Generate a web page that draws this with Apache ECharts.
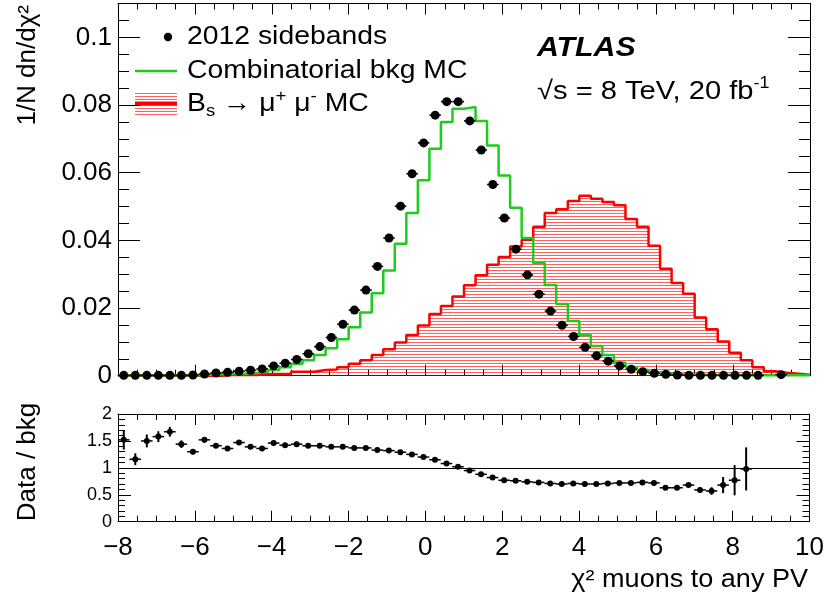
<!DOCTYPE html>
<html><head><meta charset="utf-8">
<script src="https://cdn.jsdelivr.net/npm/echarts@6/dist/echarts.min.js"></script>
<style>html,body{margin:0;padding:0;background:#fff}#c{width:827px;height:601px}</style>
</head><body><div id="c"></div>
<script>
// binning
const xMin = -8, xMax = 10, binW = 0.3;
// 2012 sidebands (data), normalised
const dataVals = [0.0001,0.0001,0.0001,0.0001,0.0001,0.0001,0.0002,0.0005,0.0008,0.0010,
  0.0013,0.0016,0.0020,0.0029,0.0037,0.0048,0.0065,0.0086,0.0113,0.0152,
  0.0194,0.0253,0.0323,0.0407,0.0501,0.0597,0.0688,0.0770,0.0810,0.0810,
  0.0753,0.0667,0.0565,0.0466,0.0374,0.0298,0.0241,0.0191,0.0149,0.0116,
  0.0084,0.0059,0.0043,0.0029,0.0019,0.0012,0.0007,0.0004,0.0002,0.0001,
  0.0001,0.0001,0.0001,0.0001,0.0001,0.0001,null,0.0003,null,null];
// Combinatorial bkg MC
const bkgVals = [0.0001,0.0001,0.0001,0.0001,0.0001,0.0001,0.0001,0.0003,0.0004,0.0005,
  0.0006,0.0008,0.0011,0.0017,0.0025,0.0035,0.0046,0.0061,0.0081,0.0108,
  0.0143,0.0187,0.0244,0.0311,0.0390,0.0481,0.0578,0.0671,0.0750,0.0789,
  0.0794,0.0753,0.0680,0.0592,0.0496,0.0407,0.0333,0.0268,0.0212,0.0162,
  0.0120,0.0088,0.0061,0.0039,0.0025,0.0017,0.0010,0.0007,0.0004,0.0003,
  0.0002,0.0002,0.0002,0.0001,0.0001,0.0001,0.0001,0.0001,0.0001,0.0001];
// Bs -> mu mu MC
const sigVals = [0,0,0,0,0,0,0,0,0,0.0002,
  0.0002,0.0002,0.0005,0.0005,0.0005,0.0012,0.0012,0.0017,0.0018,0.0025,
  0.0035,0.0046,0.0061,0.0078,0.0098,0.0120,0.0148,0.0182,0.0206,0.0234,
  0.0267,0.0297,0.0328,0.0351,0.0382,0.0402,0.0440,0.0481,0.0492,0.0516,
  0.0532,0.0523,0.0513,0.0504,0.0463,0.0440,0.0384,0.0316,0.0274,0.0242,
  0.0172,0.0137,0.0101,0.0068,0.0046,0.0025,0.0013,0.0009,0.0006,0.0003];
// Data / bkg ratio
const ratioVals = [1.52,1.16,1.50,1.58,1.67,1.44,1.30,1.52,1.41,1.36,
  1.47,1.39,1.36,1.46,1.42,1.44,1.41,1.41,1.39,1.39,
  1.37,1.37,1.33,1.32,1.29,1.25,1.20,1.15,1.08,1.02,
  0.95,0.88,0.82,0.77,0.76,0.74,0.73,0.71,0.70,0.71,
  0.70,0.70,0.71,0.72,0.72,0.73,0.72,0.63,0.63,0.68,
  0.59,0.57,0.68,0.77,0.98];
const ratioErr = [0.18,0.11,0.12,0.10,0.09,0.07,0.05,0.05,0.04,0.03,
  0.03,0.03,0.02,0.02,0.02,0.02,0.02,0.02,0.02,0.01,
  0.01,0.01,0.01,0.01,0.01,0.01,0.01,0.01,0.01,0.01,
  0.01,0.01,0.01,0.01,0.01,0.01,0.01,0.01,0.01,0.01,
  0.01,0.01,0.01,0.01,0.02,0.02,0.02,0.02,0.03,0.03,
  0.05,0.07,0.15,0.28,0.40];
const xTicks = [-8,-6,-4,-2,0,2,4,6,8,10];

const FONT = "'Liberation Sans', Arial, Helvetica, sans-serif";
const center = i => xMin + binW * (i + 0.5);
const edge = i => xMin + binW * i;
function stepData(vals) {
  const d = vals.map((v, i) => [edge(i), v]);
  d.push([edge(vals.length), vals[vals.length - 1]]);
  return d;
}
const dataPts = dataVals.map((v, i) => v == null ? null : [center(i), v]).filter(Boolean);
const ratioPts = ratioVals.map((v, i) => [center(i), v, ratioErr[i]]);

// hatch pattern
const pc = document.createElement('canvas');
pc.width = 8; pc.height = 3;
const pctx = pc.getContext('2d');
pctx.fillStyle = 'rgba(255,0,0,0.62)';
pctx.fillRect(0, 0, 8, 1);

const chart = echarts.init(document.getElementById('c'), null, {renderer: 'canvas'});

function xAxisCfg(grid, pos, labels) {
  return {
    type: 'value', gridIndex: grid, position: pos, min: xMin, max: xMax, interval: 2,
    axisLine: {show: true, onZero: false, lineStyle: {color: '#000', width: 1}},
    axisTick: {show: true, inside: true, length: 11, lineStyle: {color: '#000'}},
    minorTick: {show: true, splitNumber: 4, length: 6, lineStyle: {color: '#000'}},
    splitLine: {show: false},
    axisLabel: labels ? {show: true, fontSize: 26, fontFamily: FONT, color: '#000', margin: 13,
      formatter: v => xTicks.includes(v) ? String(v).replace('-', '\u2212') : ''} : {show: false}
  };
}
function yAxisCfg(grid, pos, labels, min, max, interval, split, len, mlen, fs, fmt) {
  return {
    type: 'value', gridIndex: grid, position: pos, min, max, interval,
    axisLine: {show: true, onZero: false, lineStyle: {color: '#000', width: 1}},
    axisTick: {show: true, inside: true, length: len, lineStyle: {color: '#000'}},
    minorTick: {show: true, splitNumber: split, length: mlen, lineStyle: {color: '#000'}},
    splitLine: {show: false},
    axisLabel: labels ? {show: true, fontSize: fs, fontFamily: FONT, color: '#000', margin: 6, formatter: fmt} : {show: false}
  };
}

const errRender = (hOnly) => function (params, api) {
  const x = api.value(0), y = api.value(1), e = hOnly ? 0 : api.value(2);
  const l = api.coord([x - binW / 2, y]), r = api.coord([x + binW / 2, y]);
  const children = [{type: 'line', shape: {x1: l[0], y1: l[1], x2: r[0], y2: r[1]}, style: {stroke: '#000', lineWidth: 1.5}}];
  if (!hOnly) {
    const t = api.coord([x, y + e]), b = api.coord([x, y - e]);
    children.push({type: 'line', shape: {x1: t[0], y1: t[1], x2: b[0], y2: b[1]}, style: {stroke: '#000', lineWidth: 2}});
  }
  return {type: 'group', children};
};

const option = {
  backgroundColor: '#fff',
  animation: false,
  grid: [
    {left: 118, top: 3.5, width: 692, height: 372.2},
    {left: 118, top: 414, width: 692, height: 107.7}
  ],
  xAxis: [
    xAxisCfg(0, 'bottom', false), xAxisCfg(0, 'top', false),
    xAxisCfg(1, 'bottom', true), xAxisCfg(1, 'top', false)
  ],
  yAxis: [
    yAxisCfg(0, 'left', true, 0, 0.11, 0.02, 4, 22, 11, 26, v => v > 0.105 ? '' : (v === 0 ? '0' : String(+v.toFixed(2)))),
    yAxisCfg(0, 'right', false, 0, 0.11, 0.02, 4, 22, 11),
    yAxisCfg(1, 'left', true, 0, 2, 0.5, 5, 13, 7, 18, v => String(v)),
    yAxisCfg(1, 'right', false, 0, 2, 0.5, 5, 13, 7)
  ],
  series: [
    {type: 'line', name: 'sig', xAxisIndex: 0, yAxisIndex: 0, step: 'end', symbol: 'none',
     data: stepData(sigVals), lineStyle: {color: '#ff0000', width: 2.5},
     areaStyle: {color: {image: pc, repeat: 'repeat'}, opacity: 1}, z: 2},
    {type: 'line', name: 'bkg', xAxisIndex: 0, yAxisIndex: 0, step: 'end', symbol: 'none',
     data: stepData(bkgVals), lineStyle: {color: '#1ecc1e', width: 2.5}, z: 3},
    {type: 'custom', xAxisIndex: 0, yAxisIndex: 0, data: dataPts, renderItem: errRender(true), z: 4},
    {type: 'scatter', xAxisIndex: 0, yAxisIndex: 0, data: dataPts, symbol: 'circle', symbolSize: 9,
     itemStyle: {color: '#000', opacity: 1}, z: 5},
    {type: 'custom', xAxisIndex: 2, yAxisIndex: 2, data: ratioPts, renderItem: errRender(false), z: 4},
    {type: 'scatter', xAxisIndex: 2, yAxisIndex: 2, data: ratioPts, symbol: 'circle', symbolSize: 6,
     itemStyle: {color: '#000', opacity: 1}, z: 5,
     markLine: {silent: true, symbol: 'none', label: {show: false},
       lineStyle: {color: '#000', width: 1, type: 'solid'}, data: [{yAxis: 1}]}}
  ],
  graphic: [
    // legend
    {type: 'circle', shape: {cx: 168, cy: 37, r: 4.2}, style: {fill: '#000'}},
    {type: 'line', shape: {x1: 135, y1: 71, x2: 177, y2: 71}, style: {stroke: '#1ecc1e', lineWidth: 2.5}},
    {type: 'rect', shape: {x: 135, y: 91, width: 42, height: 24}, style: {fill: {image: pc, repeat: 'repeat'}}},
    {type: 'line', shape: {x1: 135, y1: 103.5, x2: 177, y2: 103.5}, style: {stroke: '#ff0000', lineWidth: 4}},
    {type: 'text', x: 187, y: 37, scaleX: 1.09, style: {text: '2012 sidebands', font: '26px ' + FONT, fill: '#000', textVerticalAlign: 'middle'}},
    {type: 'text', x: 187, y: 71, scaleX: 1.09, style: {text: 'Combinatorial bkg MC', font: '26px ' + FONT, fill: '#000', textVerticalAlign: 'middle'}},
    {type: 'text', x: 187, y: 104, scaleX: 1.09, style: {
      text: '{n|B}{sub|s}{n| \u2192 \u03bc}{sup|+}{n| \u03bc}{sup|-}{n| MC}', textVerticalAlign: 'middle',
      rich: {n: {fontSize: 26, fontFamily: FONT, lineHeight: 32, color: '#000'},
             sub: {fontSize: 17, fontFamily: FONT, lineHeight: 17, verticalAlign: 'bottom', color: '#000'},
             sup: {fontSize: 17, fontFamily: FONT, lineHeight: 17, verticalAlign: 'top', color: '#000'}}}},
    // ATLAS label
    {type: 'text', x: 537, y: 49, scaleX: 1.12, style: {text: 'ATLAS', font: 'italic bold 27px ' + FONT, fill: '#000', textVerticalAlign: 'middle'}},
    {type: 'text', x: 537, y: 92, scaleX: 1.12, style: {
      text: '{n|\u221as = 8 TeV, 20 fb}{sup|-1}', textVerticalAlign: 'middle',
      rich: {n: {fontSize: 26, fontFamily: FONT, lineHeight: 32, color: '#000'},
             sup: {fontSize: 16, fontFamily: FONT, lineHeight: 16, verticalAlign: 'top', color: '#000'}}}},
    // axis titles
    {type: 'text', x: 28, y: 5, rotation: Math.PI / 2, style: {
      text: '1/N dn/d\u03c7\u00b2', font: '26px ' + FONT, fill: '#000', textAlign: 'right', textVerticalAlign: 'middle'}},
    {type: 'text', x: 28, y: 462, rotation: Math.PI / 2, style: {
      text: 'Data / bkg', font: '26px ' + FONT, fill: '#000', textAlign: 'center', textVerticalAlign: 'middle'}},
    {type: 'text', x: 808, y: 580, scaleX: 1.04, style: {
      text: '\u03c7\u00b2 muons to any PV', font: '26px ' + FONT, fill: '#000', textAlign: 'right', textVerticalAlign: 'middle'}}
  ]
};
chart.setOption(option);
</script>
</body></html>
